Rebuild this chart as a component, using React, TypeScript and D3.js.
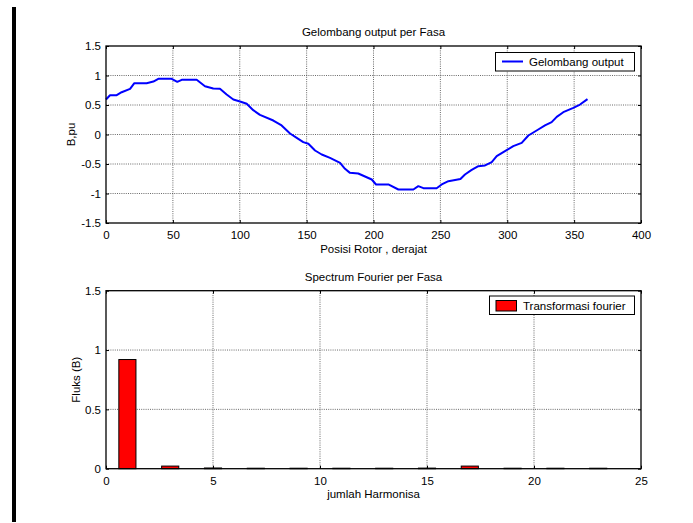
import React, { useEffect, useRef } from 'react';
import * as d3 from 'd3';

// waveform: [rotor position (deg), B (pu)]
const wavePos = [0, 3, 8, 11.7, 18, 21.2, 30.4, 35.4, 39.1, 49.1, 53.3, 56.6, 67.8, 74, 80.2, 85.2, 90.2, 95.2, 100.2, 105.2, 110.1, 115.1, 125.1, 131.3, 137.6, 142.6, 147.5, 151.3, 156.3, 161.3, 167.5, 175, 178.7, 182.4, 188.6, 198.7, 201.9, 211.1, 218.6, 229.8, 233.5, 237.3, 247.2, 251, 256, 265, 268.4, 273.4, 278.4, 283.4, 288.4, 292.1, 298.3, 304.5, 310.8, 315.8, 323.2, 328.2, 333.2, 337, 341.9, 349.4, 354.4, 360];
const waveB = [0.593, 0.666, 0.666, 0.717, 0.774, 0.87, 0.87, 0.898, 0.944, 0.944, 0.893, 0.927, 0.927, 0.819, 0.779, 0.774, 0.678, 0.593, 0.559, 0.52, 0.412, 0.333, 0.237, 0.153, 0.017, -0.056, -0.13, -0.158, -0.271, -0.339, -0.395, -0.48, -0.582, -0.65, -0.661, -0.763, -0.847, -0.847, -0.932, -0.932, -0.876, -0.91, -0.91, -0.847, -0.791, -0.755, -0.678, -0.6, -0.537, -0.525, -0.469, -0.367, -0.282, -0.198, -0.141, -0.017, 0.085, 0.153, 0.209, 0.299, 0.378, 0.452, 0.508, 0.6];

// fourier spectrum
const harmonics = [1, 3, 5, 7, 9, 11, 13, 15, 17, 19, 21, 23];
const fluks = [0.92, 0.022, 0.006, 0.004, 0.004, 0.004, 0.004, 0.005, 0.022, 0.004, 0.004, 0.004];

const topXTicks = [0, 50, 100, 150, 200, 250, 300, 350, 400];
const topYTicks = [-1.5, -1, -0.5, 0, 0.5, 1, 1.5];
const botXTicks = [0, 5, 10, 15, 20, 25];
const botYTicks = [0, 0.5, 1, 1.5];

const W = 693;
const H = 523;
const FONT = 'Liberation Sans, Arial, sans-serif';
const FS = 11.5;

const App = () => {
  const ref = useRef<SVGSVGElement>(null);

  useEffect(() => {
    const svg = d3.select(ref.current);
    svg.selectAll('*').remove();

    svg.append('rect').attr('width', W).attr('height', H).attr('fill', '#fff');
    svg.append('rect').attr('x', 12).attr('y', 7).attr('width', 4).attr('height', 515).attr('fill', '#000');

    const left = 106;
    const right = 641;

    const drawFrame = (x, y, xt, yt, top, bottom, title, xlabel, ylabel, ylabelX) => {
      const g = svg.append('g').attr('font-family', FONT).attr('font-size', FS);

      // dotted grid
      g.append('g')
        .selectAll('line.v')
        .data(xt.slice(1, -1))
        .join('line')
        .attr('x1', (d) => x(d)).attr('x2', (d) => x(d))
        .attr('y1', top).attr('y2', bottom)
        .attr('stroke', '#444').attr('stroke-width', 0.8).attr('stroke-dasharray', '1,1.2');
      g.append('g')
        .selectAll('line.h')
        .data(yt.slice(1, -1))
        .join('line')
        .attr('y1', (d) => y(d)).attr('y2', (d) => y(d))
        .attr('x1', left).attr('x2', right)
        .attr('stroke', '#444').attr('stroke-width', 0.8).attr('stroke-dasharray', '1,1.2');

      const fmt = (d) => String(d);
      const axes = [
        [d3.axisBottom(x).tickValues(xt).tickFormat(fmt).tickSize(-3).tickPadding(8), `translate(0,${bottom})`],
        [d3.axisTop(x).tickValues(xt).tickFormat(() => '').tickSize(-3), `translate(0,${top})`],
        [d3.axisLeft(y).tickValues(yt).tickFormat(fmt).tickSize(-3).tickPadding(5), `translate(${left},0)`],
        [d3.axisRight(y).tickValues(yt).tickFormat(() => '').tickSize(-3), `translate(${right},0)`],
      ];
      axes.forEach(([ax, tr]) => {
        const a = g.append('g').attr('transform', tr).call(ax);
        a.select('.domain').remove();
        a.selectAll('text').attr('font-family', FONT).attr('font-size', FS).attr('fill', '#000');
        a.selectAll('line').attr('stroke', '#000');
      });

      g.append('text').attr('x', (left + right) / 2).attr('y', top - 10)
        .attr('text-anchor', 'middle').text(title);
      g.append('text').attr('x', (left + right) / 2).attr('y', bottom + 29.5)
        .attr('text-anchor', 'middle').text(xlabel);
      g.append('text')
        .attr('transform', `translate(${ylabelX},${(top + bottom) / 2}) rotate(-90)`)
        .attr('text-anchor', 'middle').text(ylabel);
      return g;
    };

    const box = (top, bottom) =>
      svg.append('rect').attr('x', left).attr('y', top).attr('width', right - left)
        .attr('height', bottom - top).attr('fill', 'none').attr('stroke', '#000').attr('stroke-width', 1.3);

    // top plot
    const t0 = 46, t1 = 223;
    const x1 = d3.scaleLinear().domain([0, 400]).range([left, right]);
    const y1 = d3.scaleLinear().domain([-1.5, 1.5]).range([t1, t0]);
    drawFrame(x1, y1, topXTicks, topYTicks, t0, t1, 'Gelombang output per Fasa', 'Posisi Rotor , derajat', 'B,pu', 75);
    const line = d3.line<number>().x((d, i) => x1(wavePos[i])).y((d) => y1(d));
    svg.append('path').attr('d', line(waveB)).attr('fill', 'none')
      .attr('stroke', '#0000ff').attr('stroke-width', 2).attr('stroke-linejoin', 'round');
    box(t0, t1);

    const lg1 = svg.append('g').attr('font-family', FONT).attr('font-size', FS);
    lg1.append('rect').attr('x', 495.5).attr('y', 52.5).attr('width', 139).attr('height', 18.5)
      .attr('fill', '#fff').attr('stroke', '#000').attr('stroke-width', 1);
    lg1.append('line').attr('x1', 502).attr('x2', 523).attr('y1', 61.5).attr('y2', 61.5)
      .attr('stroke', '#0000ff').attr('stroke-width', 2);
    lg1.append('text').attr('x', 529).attr('y', 65.5).text('Gelombang output');

    // bottom plot
    const b0 = 290.7, b1 = 468.7;
    const x2 = d3.scaleLinear().domain([0, 25]).range([left, right]);
    const y2 = d3.scaleLinear().domain([0, 1.5]).range([b1, b0]);
    drawFrame(x2, y2, botXTicks, botYTicks, b0, b1, 'Spectrum Fourier per Fasa', 'jumlah Harmonisa', 'Fluks (B)', 79.5);
    const bw = x2(0.8) - x2(0);
    svg.append('g').selectAll('rect').data(fluks).join('rect')
      .attr('x', (d, i) => x2(harmonics[i]) - bw / 2)
      .attr('y', (d) => y2(d))
      .attr('width', bw)
      .attr('height', (d) => y2(0) - y2(d))
      .attr('fill', '#ff0000').attr('stroke', '#000').attr('stroke-width', 1);
    box(b0, b1);

    const lg2 = svg.append('g').attr('font-family', FONT).attr('font-size', FS);
    lg2.append('rect').attr('x', 489.5).attr('y', 296).attr('width', 145).attr('height', 18.5)
      .attr('fill', '#fff').attr('stroke', '#000').attr('stroke-width', 1);
    lg2.append('rect').attr('x', 496).attr('y', 300.5).attr('width', 20.5).attr('height', 10.5)
      .attr('fill', '#ff0000').attr('stroke', '#000').attr('stroke-width', 1);
    lg2.append('text').attr('x', 523).attr('y', 309.5).text('Transformasi fourier');
  }, []);

  return (
    <svg ref={ref} width={W} height={H} style={{ position: 'absolute', left: 0, top: 0 }}>
      {/* chart renders here */}
    </svg>
  );
};

export default App;
